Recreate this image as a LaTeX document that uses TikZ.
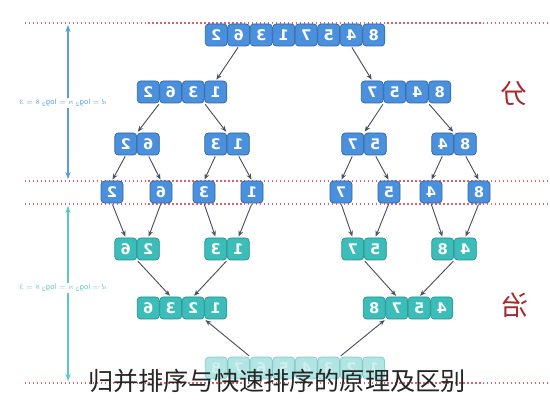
\documentclass[tikz,border=0pt]{standalone}
\usepackage{fontspec}
\usepackage{graphicx}
\setmainfont{DejaVu Sans}
\newfontfamily\cjk{Noto Sans CJK SC}
\definecolor{splitblue}{HTML}{4A90DD}
\definecolor{splitline}{HTML}{2F66A6}
\definecolor{mergeteal}{HTML}{3DBDB9}
\definecolor{mergeline}{HTML}{23918C}
\definecolor{arrowgray}{HTML}{4B5060}
\definecolor{cutred}{HTML}{E0606C}
\definecolor{depthblue}{HTML}{5A9BE3}
\definecolor{depthteal}{HTML}{5CC8C4}
\definecolor{fenred}{HTML}{A8282E}
\tikzset{
  cell/.style={draw,rounded corners=3pt,minimum width=0.66cm,minimum height=0.66cm,inner sep=0pt,text=white,font=\bfseries\fontsize{12.5}{13}\selectfont,line width=0.6pt},
  bcell/.style={cell,fill=splitblue,draw=splitline},
  tcell/.style={cell,fill=mergeteal,draw=mergeline},
  fcell/.style={tcell,opacity=0.4},
  flow/.style={-{Stealth[length=5pt,width=4pt]},draw=arrowgray,line width=0.8pt,shorten >=1pt,shorten <=1pt},
  cut/.style={draw=cutred,line width=1pt,dash pattern=on 1.2pt off 2.2pt},
  depth/.style={{Stealth[length=6pt]}-{Stealth[length=6pt]},line width=1pt},
  depthlabel/.style={fill=white,inner sep=1pt,font=\fontsize{6}{7}\selectfont}
}
\usetikzlibrary{arrows.meta}
% one row of touching cells: style, name, count, centre x, y, digits
\newcommand\cellrow[6]{%
  \foreach \d [count=\i] in {#6}
    \node[#1] (#2\i) at ({#4+22.5*(\i-(#3+1)/2)},#5) {\reflectbox{\d}};}

\begin{document}
\begin{tikzpicture}[x=0.03cm,y=-0.03cm]
  \useasboundingbox (0,0) rectangle (550,400);
  \foreach \y in {23,181,204,383}
    \draw[cut] (25,\y) -- (550,\y);

  % depth of the split and of the merge
  \coordinate (d1) at (68,25);
  \coordinate (d2) at (68,179);
  \coordinate (d3) at (68,206);
  \coordinate (d4) at (68,381);
  \draw[depth,depthblue] (d1) -- (d2);
  \draw[depth,depthteal] (d3) -- (d4);
  \node[depthlabel,text=depthblue] (dsplit) at (63,103) {\reflectbox{$d=\log_2 n=\log_2 8=3$}};
  \node[depthlabel,text=depthteal] (dmerge) at (63,288) {\reflectbox{$d=\log_2 n=\log_2 8=3$}};

  % split
  \cellrow{bcell}{top}{8}{295}{35}{2,6,3,1,7,5,4,8}
  \cellrow{bcell}{la}{4}{182}{92}{2,6,3,1}
  \cellrow{bcell}{lb}{4}{406}{92}{7,5,4,8}
  \cellrow{bcell}{ma}{2}{137}{144}{2,6}
  \cellrow{bcell}{mb}{2}{227}{144}{3,1}
  \cellrow{bcell}{mc}{2}{364}{144}{7,5}
  \cellrow{bcell}{md}{2}{454}{144}{4,8}
  \foreach \x/\d [count=\i] in {112/2,161/6,204/3,252/1,341/7,389/5,431/4,479/8}
    \node[bcell] (s\i) at (\x,192) {\reflectbox{\d}};

  % merge
  \cellrow{tcell}{na}{2}{137}{249}{6,2}
  \cellrow{tcell}{nb}{2}{227}{249}{3,1}
  \cellrow{tcell}{nc}{2}{364}{249}{7,5}
  \cellrow{tcell}{nd}{2}{454}{249}{8,4}
  \cellrow{tcell}{pa}{4}{182}{308}{6,3,2,1}
  \cellrow{tcell}{pb}{4}{408}{308}{8,7,5,4}
  \cellrow{fcell}{f}{8}{295}{368}{8,7,6,5,4,3,2,1}

  \draw[flow] (top2.south) -- (la4.north);
  \draw[flow] (top7.south) -- (lb1.north);
  \draw[flow] (la1.south east) -- (ma1.north east);
  \draw[flow] (la4.south west) -- (mb2.north west);
  \draw[flow] (lb1.south east) -- (mc1.north east);
  \draw[flow] (lb4.south west) -- (md2.north west);
  \foreach \a/\b in {ma1/s1,ma2/s2,mb1/s3,mb2/s4,mc1/s5,mc2/s6,md1/s7,md2/s8}
    \draw[flow] (\a.south) -- (\b.north);
  \foreach \a/\b in {s1/na1,s2/na2,s3/nb1,s4/nb2,s5/nc1,s6/nc2,s7/nd1,s8/nd2}
    \draw[flow] (\a.south) -- (\b.north);
  \draw[flow] (na1.south east) -- (pa2.north);
  \draw[flow] (nb1.south east) -- (pa3.north);
  \draw[flow] (nc1.south east) -- (pb2.north);
  \draw[flow] (nd1.south east) -- (pb3.north);
  \draw[flow] (f2.north east) -- (pa3.south east);
  \draw[flow] (f7.north west) -- (pb1.south east);

  \node[text=fenred,font=\cjk\fontsize{23}{25}\selectfont] (fen) at (514,94) {\reflectbox{分}};
  \node[text=fenred,font=\cjk\fontsize{23}{25}\selectfont] (zhi) at (515,305) {\reflectbox{治}};
  \node[text=black!85,font=\cjk\fontsize{21.5}{24}\selectfont] (title) at (277,381) {归并排序与快速排序的原理及区别};
\end{tikzpicture}
\end{document}
